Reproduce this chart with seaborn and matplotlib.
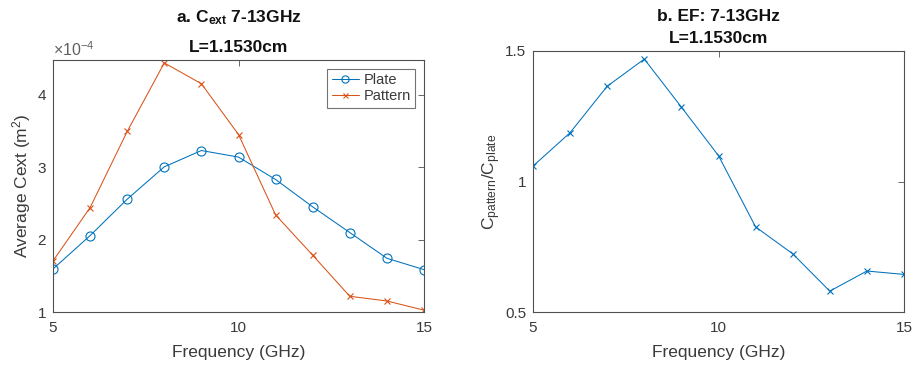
import numpy as np
import pandas as pd
import matplotlib
matplotlib.use("Agg")
import matplotlib.pyplot as plt
import seaborn as sns
from matplotlib.ticker import FixedLocator, FuncFormatter

# Frequencies (GHz)
freq = [5, 6, 7, 8, 9, 10, 11, 12, 13, 14, 15]

# Average extinction cross-section (units of 1e-4 m^2)
plate = [1.594, 2.055, 2.558, 3.005, 3.230, 3.139, 2.830, 2.452, 2.097, 1.742, 1.585]
pattern = [1.705, 2.442, 3.493, 4.440, 4.152, 3.451, 2.341, 1.784, 1.217, 1.152, 1.025]

# Enhancement factor C_pattern / C_plate
ef = [1.059, 1.187, 1.365, 1.469, 1.285, 1.099, 0.826, 0.723, 0.580, 0.657, 0.644]

x_ticks = [5, 10, 15]
left_yticks = [1, 2, 3, 4]
right_yticks = [0.5, 1, 1.5]

BLUE = "#0072BD"
ORANGE = "#D95319"
TXT = "#3a3a3a"
SPINE = "#505050"

sns.set_style("white")
plt.rcParams["font.family"] = ["Liberation Sans", "DejaVu Sans"]
plt.rcParams["mathtext.fontset"] = "custom"
plt.rcParams["mathtext.rm"] = "Liberation Sans"
plt.rcParams["mathtext.it"] = "Liberation Sans:italic"
plt.rcParams["mathtext.bf"] = "Liberation Sans:bold"

W, H = 917, 368
fig = plt.figure(figsize=(W / 100, H / 100), dpi=100)
ax1 = fig.add_axes([53 / W, 1 - 312 / H, (424 - 53) / W, (312 - 60) / H])
ax2 = fig.add_axes([533 / W, 1 - 312 / H, (904 - 533) / W, (312 - 51) / H])

df = pd.DataFrame({"freq": freq, "plate": plate, "pattern": pattern, "ef": ef})

sns.lineplot(data=df, x="freq", y="plate", ax=ax1, color=BLUE, lw=0.75,
             marker="o", markersize=6.5, markerfacecolor="none",
             markeredgecolor=BLUE, markeredgewidth=0.8, label="Plate")
sns.lineplot(data=df, x="freq", y="pattern", ax=ax1, color=ORANGE, lw=0.75,
             marker="x", markersize=4.5, markeredgecolor=ORANGE,
             markeredgewidth=0.8, label="Pattern")
sns.lineplot(data=df, x="freq", y="ef", ax=ax2, color=BLUE, lw=0.75,
             marker="x", markersize=4.5, markeredgecolor=BLUE,
             markeredgewidth=0.8, legend=False)


def style_axes(ax, yticks, ylim):
    ax.set_xlim(5, 15)
    ax.set_ylim(*ylim)
    ax.xaxis.set_major_locator(FixedLocator(x_ticks))
    ax.yaxis.set_major_locator(FixedLocator(yticks))
    ax.tick_params(direction="in", length=4, width=0.6, colors=SPINE,
                   labelsize=11, top=True, right=True, labelcolor=TXT)
    ax.tick_params(axis="x", pad=6.5)
    ax.tick_params(axis="y", pad=5)
    for s in ax.spines.values():
        s.set_visible(True)
        s.set_color(SPINE)
        s.set_linewidth(0.8)
    ax.set_xlabel("Frequency (GHz)", fontsize=12.5, color=TXT, labelpad=7)
    ax.grid(False)


style_axes(ax1, left_yticks, (1, 4.48))
style_axes(ax2, right_yticks, (0.5, 1.5))

ax1.yaxis.set_major_formatter(FuncFormatter(lambda v, p: f"{v:g}"))
ax2.yaxis.set_major_formatter(FuncFormatter(lambda v, p: f"{v:g}"))

ax1.set_ylabel(r"Average Cext (m$^{\mathrm{2}}$)", fontsize=12.5, color=TXT)
ax1.yaxis.set_label_coords((33 - 53) / (424 - 53), 0.5)
ax2.set_ylabel(r"C$_{\mathrm{pattern}}$/C$_{\mathrm{plate}}$", fontsize=12.5,
               color=TXT)
ax2.yaxis.set_label_coords((503 - 533) / (904 - 533), 0.5)

ax1.text(0.0, 1.005, r"$\times\mathrm{10}^{\mathrm{-4}}$", transform=ax1.transAxes,
         fontsize=11.5, color="#606060", ha="left", va="bottom")

# Two-line bold titles, placed by baseline
title_kw = dict(fontsize=12.5, fontweight="bold", color="#111111",
                ha="center", va="baseline")
cx1 = (53 + 424) / 2 / W
cx2 = (533 + 904) / 2 / W
fig.text(cx1, 1 - 22 / H, "a. C$_{\\mathbf{ext}}$ 7-13GHz", **title_kw)
fig.text(cx1, 1 - 51.5 / H, "L=1.1530cm", **title_kw)
fig.text(cx2, 1 - 21 / H, "b. EF: 7-13GHz", **title_kw)
fig.text(cx2, 1 - 42.7 / H, "L=1.1530cm", **title_kw)

leg = ax1.legend(loc="upper right", fontsize=10.5, frameon=True, fancybox=False,
                 handlelength=1.9, handletextpad=0.3, borderpad=0.3,
                 labelspacing=0.15, borderaxespad=0.6, markerscale=0.8)
leg.get_frame().set_edgecolor(SPINE)
leg.get_frame().set_linewidth(0.8)
for t in leg.get_texts():
    t.set_color(TXT)

fig.savefig("out.png", dpi=100)
